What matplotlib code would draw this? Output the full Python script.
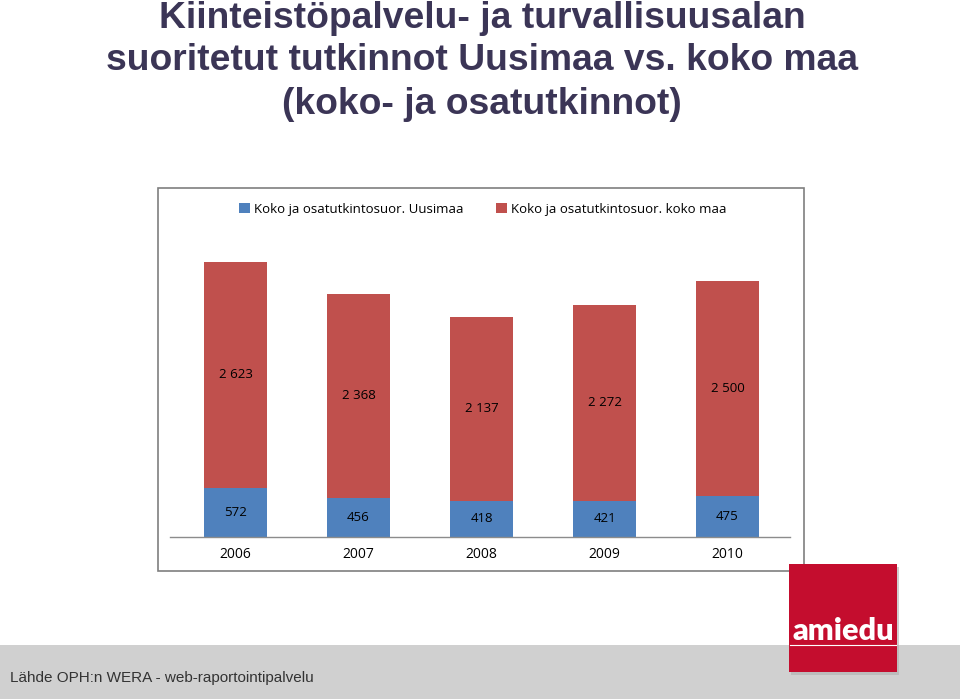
import matplotlib
matplotlib.use("Agg")
import matplotlib.pyplot as plt
from matplotlib.patches import Rectangle, Patch

years = ["2006", "2007", "2008", "2009", "2010"]
uusimaa = [572, 456, 418, 421, 475]
koko_maa = [2623, 2368, 2137, 2272, 2500]
series_names = ["Koko ja osatutkintosuor. Uusimaa", "Koko ja osatutkintosuor. koko maa"]
title_lines = ["Kiinteistöpalvelu- ja turvallisuusalan",
               "suoritetut tutkinnot Uusimaa vs. koko maa",
               "(koko- ja osatutkinnot)"]
source = "Lähde OPH:n WERA - web-raportointipalvelu"

BLUE = "#4f81bd"
RED = "#c0504d"
W, H = 960, 699

fig = plt.figure(figsize=(9.6, 6.99), dpi=100)
fig.patch.set_facecolor("white")

def fx(x): return x / W
def fy(y): return 1 - y / H

# footer band
fig.patches.append(Rectangle((0, 0), 1, fy(645), transform=fig.transFigure,
                             facecolor="#d0d0d0", edgecolor="none", zorder=0))
fig.text(fx(10), fy(678), source, fontsize=11, color="#333333",
         family=["Liberation Sans", "DejaVu Sans"], va="center", ha="left")

# chart frame
fig.patches.append(Rectangle((fx(158), fy(571)), fx(804) - fx(158), fy(188) - fy(571),
                             transform=fig.transFigure, facecolor="white",
                             edgecolor="#7f7f7f", linewidth=1.2, zorder=1))

# title
for yy, line in zip([18, 61, 104], title_lines):
    fig.text(fx(482), fy(yy), line, ha="center", va="center", fontsize=26.8, fontweight="bold",
             color="#3b3556",
             family=["Liberation Sans Narrow", "Liberation Sans", "DejaVu Sans"])

# axes
ax = fig.add_axes([fx(174), fy(537), fx(789) - fx(174), fy(231) - fy(537)])
ax.set_facecolor("none")
ax.set_zorder(2)
x = list(range(len(years)))
ax.bar(x, uusimaa, width=0.512, color=BLUE, label=series_names[0])
ax.bar(x, koko_maa, width=0.512, bottom=uusimaa, color=RED, label=series_names[1])
ax.set_xlim(-0.5, len(years) - 0.5)
ax.set_ylim(0, 3550)
ax.set_yticks([])
ax.set_xticks(x)
ax.set_xticklabels(years, fontsize=10, family=["Open Sans", "DejaVu Sans"])
ax.tick_params(axis="x", length=0, pad=7, colors="black")
for s in ["top", "right", "left", "bottom"]:
    ax.spines[s].set_visible(False)
fig.lines.append(plt.Line2D([fx(170), fx(790)], [fy(537), fy(537)], transform=fig.transFigure,
                            color="#8c8c8c", linewidth=1.0, zorder=3))

def fmt(v):
    return f"{v:,}".replace(",", " ")

for i in x:
    ax.text(i, uusimaa[i] / 2, fmt(uusimaa[i]), ha="center", va="center", fontsize=9.5,
            family=["Open Sans", "DejaVu Sans"])
    ax.text(i, uusimaa[i] + koko_maa[i] / 2, fmt(koko_maa[i]), ha="center", va="center",
            fontsize=9.5, family=["Open Sans", "DejaVu Sans"])

handles = [Patch(facecolor=BLUE), Patch(facecolor=RED)]
fig.legend(handles, series_names, loc="center", bbox_to_anchor=(fx(483), fy(209)),
           ncol=2, frameon=False, handlelength=0.8, handleheight=0.8,
           handletextpad=0.3, columnspacing=2.5,
           prop={"family": ["Open Sans", "DejaVu Sans"], "size": 9.5})

# logo
fig.patches.append(Rectangle((fx(791), fy(675)), fx(108), fy(0) - fy(108),
                             transform=fig.transFigure, facecolor="#b0b0b0",
                             edgecolor="none", zorder=3, alpha=0.6))
fig.patches.append(Rectangle((fx(789), fy(672)), fx(108), fy(0) - fy(108),
                             transform=fig.transFigure, facecolor="#c40d2e",
                             edgecolor="none", zorder=4))
fig.text(fx(843), fy(631), "amiedu", ha="center", va="center", fontsize=22,
         fontweight="heavy", color="white", family=["Lato", "DejaVu Sans"], zorder=5)
fig.lines.append(plt.Line2D([fx(790), fx(896)], [fy(645), fy(645)], transform=fig.transFigure,
                            color="white", linewidth=0.8, zorder=5))

fig.savefig("out.png", dpi=100)
